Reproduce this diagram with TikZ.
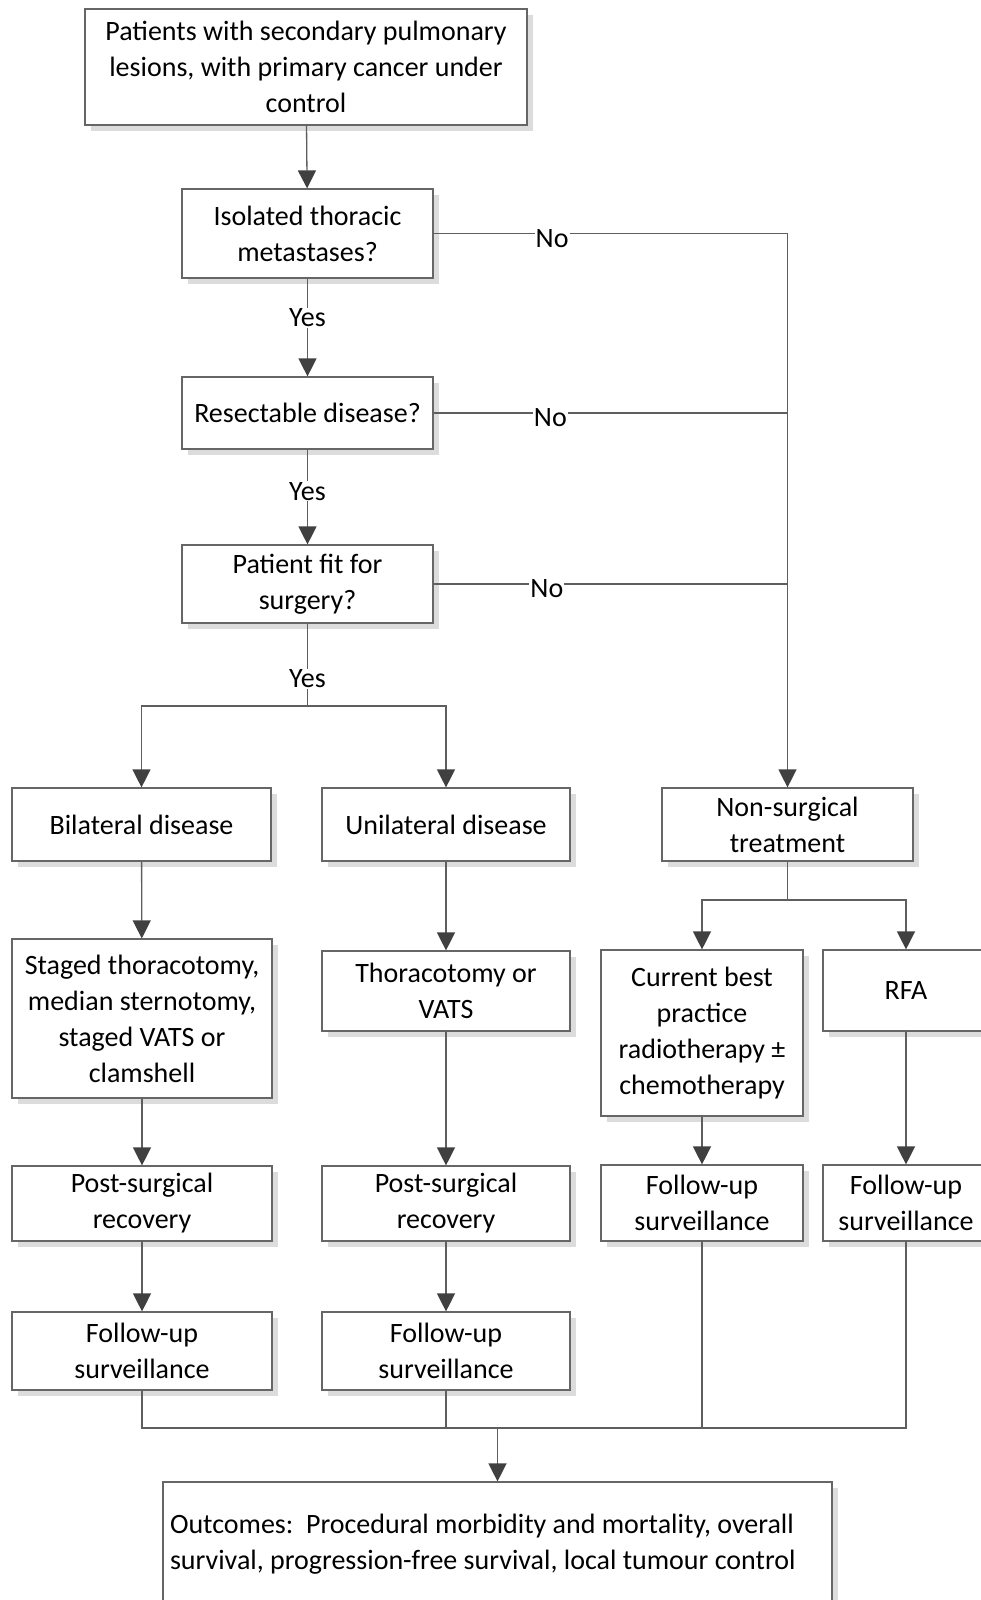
\documentclass[tikz,border=0pt]{standalone}
\usepackage{fontspec}
\setmainfont{Carlito}
\usetikzlibrary{arrows.meta,shadows}
\definecolor{boxline}{HTML}{666666}
\definecolor{conline}{HTML}{5E5E5E}
\definecolor{headcol}{HTML}{404040}
\definecolor{shadowcol}{HTML}{DCDCDC}
\tikzset{
  box/.style={draw=boxline, line width=1.2pt, fill=white, inner sep=0pt, align=center,
    font=\fontsize{28}{36}\selectfont,
    drop shadow={shadow xshift=6pt, shadow yshift=-6pt, fill=shadowcol, opacity=1}},
  conn/.style={draw=conline, line width=1.3pt},
  arr/.style={conn, -{Triangle[width=18pt,length=18pt,color=headcol]}},
  lbl/.style={fill=white, inner sep=1pt, font=\fontsize{28}{36}\selectfont},
  nolbl/.style={lbl, yshift=-5pt},
}
\begin{document}
\begin{tikzpicture}[x=1pt, y=-1pt]
    \useasboundingbox (0,0) rectangle (981,1600);

    \node[box, minimum width=442pt, minimum height=116pt] (top) at (306,67)
        {Patients with secondary pulmonary\\lesions, with primary cancer under\\control};
    \node[box, minimum width=251pt, minimum height=89pt] (iso) at (307.5,233.5)
        {Isolated thoracic\\metastases?};
    \node[box, minimum width=251pt, minimum height=72pt] (res) at (307.5,413)
        {Resectable disease?};
    \node[box, minimum width=251pt, minimum height=78pt] (fit) at (307.5,584)
        {Patient fit for\\surgery?};

    \node[box, minimum width=259pt, minimum height=73pt] (bil) at (141.5,824.5) {Bilateral disease};
    \node[box, minimum width=248pt, minimum height=73pt] (uni) at (446,824.5) {Unilateral disease};
    \node[box, minimum width=251pt, minimum height=73pt] (nonsurg) at (787.5,824.5)
        {Non-surgical\\treatment};

    \node[box, minimum width=260pt, minimum height=159pt] (staged) at (142,1018.5)
        {Staged thoracotomy,\\median sternotomy,\\staged VATS or\\clamshell};
    \node[box, minimum width=248pt, minimum height=80pt] (thor) at (446,991)
        {Thoracotomy or\\VATS};
    \node[box, minimum width=202pt, minimum height=166pt] (cbp) at (702,1033)
        {Current best\\practice\\radiotherapy ±\\chemotherapy};
    \node[box, minimum width=166pt, minimum height=81pt] (rfa) at (906,990.5) {RFA};

    \node[box, minimum width=260pt, minimum height=75pt] (psl) at (142,1203.5)
        {Post-surgical\\recovery};
    \node[box, minimum width=248pt, minimum height=75pt] (psm) at (446,1203.5)
        {Post-surgical\\recovery};
    \node[box, minimum width=202pt, minimum height=76pt] (fuc) at (702,1203)
        {Follow-up\\surveillance};
    \node[box, minimum width=166pt, minimum height=76pt] (fur) at (906,1203)
        {Follow-up\\surveillance};

    \node[box, minimum width=260pt, minimum height=78pt] (ful) at (142,1351)
        {Follow-up\\surveillance};
    \node[box, minimum width=248pt, minimum height=78pt] (fum) at (446,1351)
        {Follow-up\\surveillance};

    \node[box, minimum width=669pt, minimum height=124pt, inner xsep=7pt,
        text width=655pt, align=flush left] (out) at (497.5,1544)
        {Outcomes:\ \ Procedural morbidity and mortality, overall\\survival, progression-free survival, local tumour control};

    \coordinate (split) at (307.5,706);
    \coordinate (nsplit) at (787.5,900);
    \coordinate (merge) at (497.5,1428);

    \draw[arr] (top) -- (iso);
    \draw[arr] (iso) -- node[lbl, pos=.4]{Yes} (res);
    \draw[arr] (res) -- node[lbl, pos=.44]{Yes} (fit);
    \draw[conn] (fit) -- node[lbl, pos=.67]{Yes} (split);
    \draw[arr] (split) -| (bil);
    \draw[arr] (split) -| (uni);

    \draw[arr] (iso.east) -- node[nolbl, pos=.335]{No} (iso.east -| nonsurg) -- (nonsurg);
    \draw[conn] (res.east) -- node[nolbl, pos=.33]{No} (res.east -| nonsurg);
    \draw[conn] (fit.east) -- node[nolbl, pos=.32]{No} (fit.east -| nonsurg);

    \draw[arr] (bil) -- (staged);
    \draw[arr] (staged) -- (psl);
    \draw[arr] (psl) -- (ful);
    \draw[arr] (uni) -- (thor);
    \draw[arr] (thor) -- (psm);
    \draw[arr] (psm) -- (fum);

    \draw[conn] (nonsurg) -- (nsplit);
    \draw[arr] (nsplit) -| (cbp);
    \draw[arr] (nsplit) -| (rfa);
    \draw[arr] (cbp) -- (fuc);
    \draw[arr] (rfa) -- (fur);

    \draw[conn] (ful) |- (merge) -| (fur);
    \draw[conn] (fum) |- (merge);
    \draw[conn] (fuc) |- (merge);
    \draw[arr] (merge) -- (out);
\end{tikzpicture}
\end{document}
